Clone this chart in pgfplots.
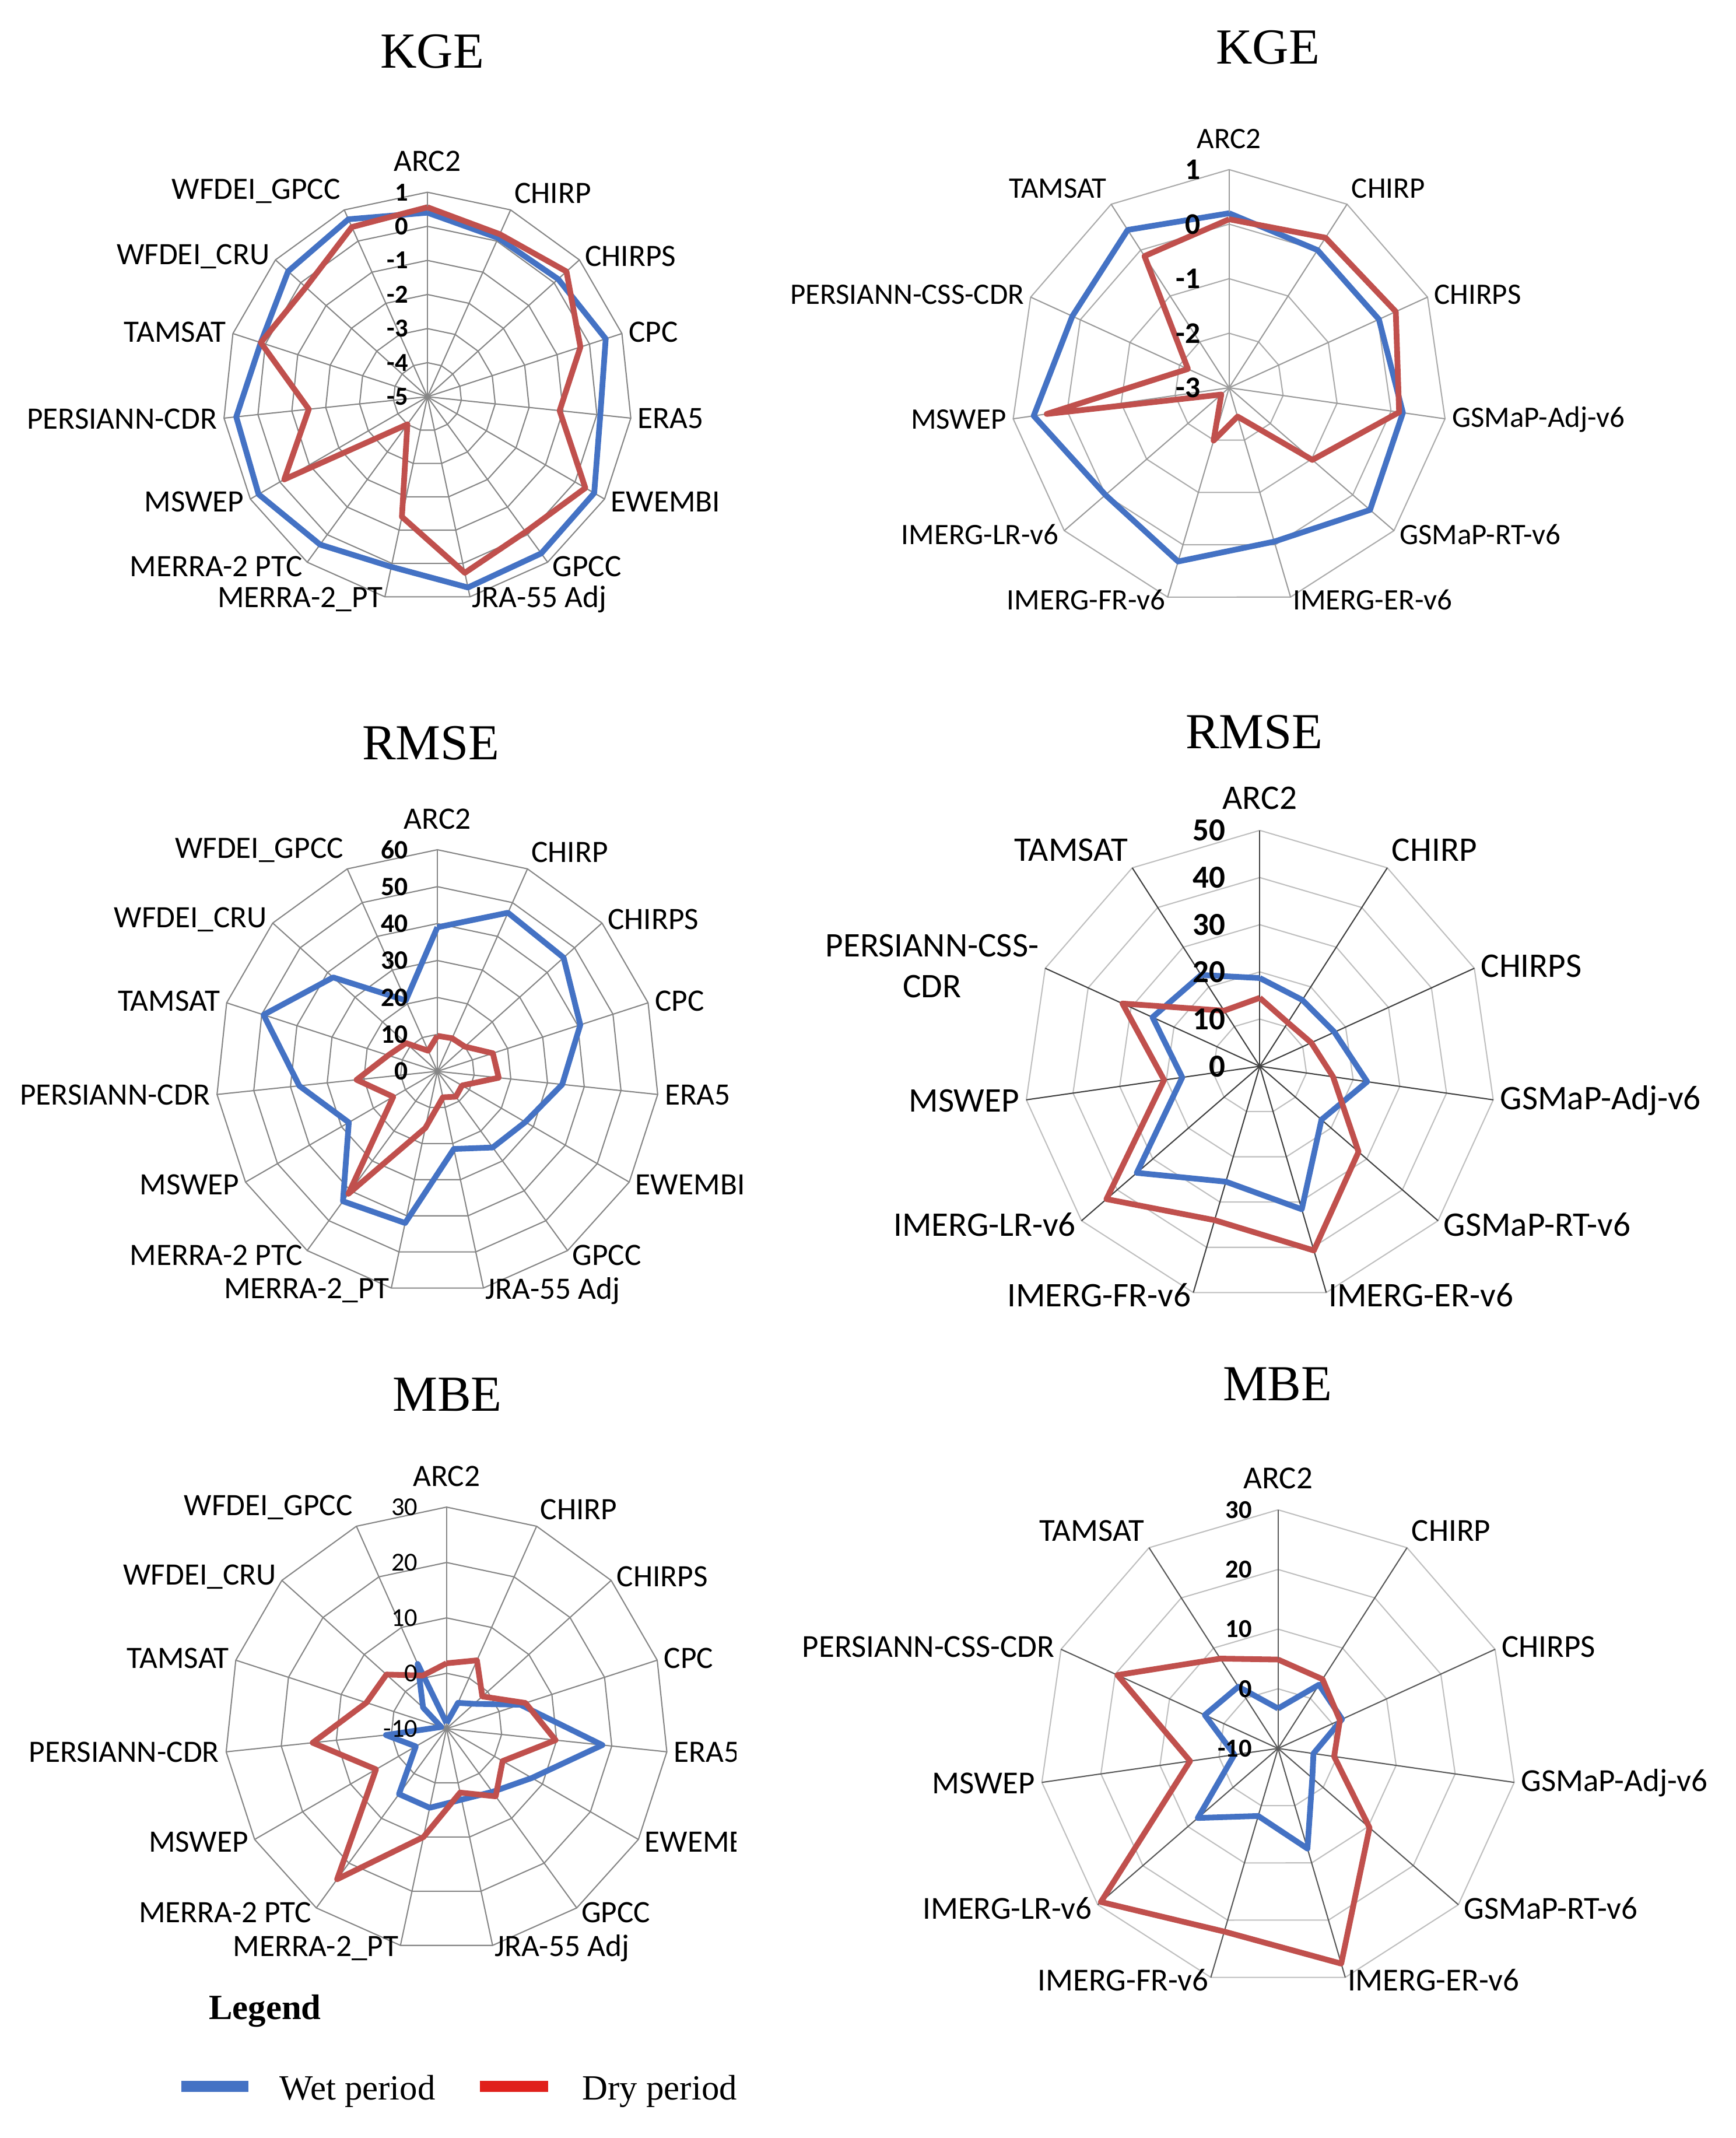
\documentclass[border=0pt]{standalone}
\usepackage{fontspec}
\setmainfont{Liberation Serif}
\newfontfamily\calib{Carlito}
\usepackage{pgfplots}
\usepackage{pgfplotstable}
\pgfplotsset{compat=1.18}
\definecolor{wetc}{HTML}{4472C4}
\definecolor{dryc}{HTML}{C0504D}
\definecolor{legblue}{HTML}{4472C4}
\definecolor{legred}{HTML}{E0201B}
\definecolor{gridL}{HTML}{868686}
\definecolor{ringB}{HTML}{ABABAB}
\definecolor{spokeB}{HTML}{9A9A9A}
\definecolor{ringR}{HTML}{BFBFBF}
\definecolor{spokeD}{HTML}{404040}
\definecolor{spokeF}{HTML}{595959}

% ---------------- data ----------------
\pgfplotstableread{
k wet dry
0 0.40 0.56
1 0.10 0.22
2 0.16 0.49
3 0.50 -0.28
4 0.10 -1.10
5 0.65 0.35
6 0.68 -0.10
7 0.72 0.28
8 0.10 -1.40
9 0.36 -4.00
10 0.72 -0.15
11 0.64 -1.50
12 0.14 0.14
13 0.50 -0.20
14 0.70 0.45
15 0.40 0.56
}\kgeL

\pgfplotstableread{
k wet dry
0 0.20 0.09
1 0.00 0.27
2 0.02 0.36
3 0.22 0.15
4 0.42 -0.98
5 -0.06 -2.45
6 0.32 -1.99
7 0.00 -2.81
8 0.62 0.38
9 0.16 -2.17
10 0.44 -0.13
11 0.20 0.09
}\kgeR

\pgfplotstableread{
k wet dry
0 39.0 9.6
1 47.0 9.8
2 46.0 10.0
3 40.7 15.8
4 34.0 16.7
5 27.5 7.7
6 25.5 8.5
7 21.5 7.2
8 42.0 15.7
9 43.5 41.0
10 27.7 13.8
11 37.6 22.0
12 49.5 14.0
13 38.0 11.4
14 21.0 6.1
15 39.0 9.6
}\rmseL

\pgfplotstableread{
k wet dry
0 18.7 14.5
1 16.7 11.0
2 17.4 12.0
3 23.0 15.7
4 17.3 27.7
5 31.6 40.7
6 25.5 34.0
7 34.5 43.0
8 16.6 20.5
9 25.0 32.0
10 23.0 14.0
11 18.7 14.5
}\rmseR

\pgfplotstableread{
k wet dry
0 -9.0 1.8
1 -4.9 3.5
2 -3.3 -1.3
3 4.0 5.0
4 18.3 9.8
5 7.8 1.7
6 4.1 5.1
7 3.1 1.8
8 4.6 10.0
9 4.6 23.6
10 -3.6 4.7
11 1.0 14.3
12 -9.0 5.2
13 -4.3 4.6
14 2.8 0.5
15 -9.0 1.8
}\mbeL

\pgfplotstableread{
k wet dry
0 -3.3 4.9
1 2.7 3.8
2 1.8 1.4
3 -4.0 -0.5
4 -2.4 10.3
5 7.5 27.6
6 1.8 22.0
7 7.8 29.3
8 -2.6 4.9
9 3.5 19.6
10 2.3 7.9
11 -3.3 4.9
}\mbeR

\pgfplotstableread{
t u
0 0
1 1
}\spk

% ---------------- helpers ----------------
\pgfplotsset{radar/.style={scale only axis, axis lines=none, ticks=none,
  xmin=-1, xmax=1, ymin=-1, ymax=1, enlargelimits=false, clip=false, anchor=center}}

% #1 table, #2 N, #3 rings, #4 ring colour, #5 spoke colour, #6 N-1
\newcommand\radargrid[6]{%
  \pgfplotsinvokeforeach{1,...,#3}{%
    \addplot[draw=#4, line width=0.9pt, mark=none, forget plot]
      table[x expr={##1/#3*sin(\thisrow{k}*360/#2)}, y expr={##1/#3*cos(\thisrow{k}*360/#2)}]{#1};
  }%
  \pgfplotsinvokeforeach{0,...,#6}{%
    \addplot[draw=#5, line width=0.9pt, mark=none, forget plot]
      table[x expr={\thisrow{t}*sin(##1*360/#2)}, y expr={\thisrow{u}*cos(##1*360/#2)}]{\spk};
  }%
}
% #1 table, #2 vmin, #3 range, #4 N
\newcommand\radarplot[4]{%
  \addplot[draw=wetc, line width=4.2pt, line join=round, mark=none]
    table[x expr={(\thisrow{wet}-(#2))/#3*sin(\thisrow{k}*360/#4)},
          y expr={(\thisrow{wet}-(#2))/#3*cos(\thisrow{k}*360/#4)}]{#1};
  \addplot[draw=dryc, line width=4.2pt, line join=round, mark=none]
    table[x expr={(\thisrow{dry}-(#2))/#3*sin(\thisrow{k}*360/#4)},
          y expr={(\thisrow{dry}-(#2))/#3*cos(\thisrow{k}*360/#4)}]{#1};
}
% #1 cx, #2 cy, #3 R, #4 N, #5 font, #6 list anchor/gap/text
\newcommand\catlabels[6]{%
  \foreach \a/\g/\t [count=\i from 0] in {#6}{%
    \node[anchor=\a, inner sep=1pt, align=center, font=#5]
      at ({#1+(#3+\g)*sin(\i*360/#4)},{#2+(#3+\g)*cos(\i*360/#4)}) {\t};}%
}
% #1 cx, #2 cy, #3 step, #4 xoff, #5 font, #6 list
\newcommand\ticklabels[6]{%
  \foreach \v [count=\j from 0] in {#6}{%
    \node[anchor=east, inner sep=0pt, font=#5] at ({#1-#4},{#2+\j*#3}) {\v};}%
}

\begin{document}
\begin{tikzpicture}[x=1pt,y=1pt]
\useasboundingbox (0,0) rectangle (1273,1568);

% ---------- titles ----------
\begin{scope}[every node/.style={anchor=base, inner sep=0pt, font=\fontsize{37}{44}\selectfont}]
\node at (317,1518) {KGE};
\node at (930,1521) {KGE};
\node at (316,1011) {RMSE};
\node at (920,1019) {RMSE};
\node at (328,533) {MBE};
\node at (937,541) {MBE};
\end{scope}

% ---------- A: left KGE ----------
\begin{axis}[radar, at={(313.5pt,1277pt)}, width=300pt, height=300pt]
\radargrid{\kgeL}{15}{6}{gridL}{gridL}{14}
\radarplot{\kgeL}{-5}{6}{15}
\end{axis}
\catlabels{313.5}{1277}{150}{15}{\fontsize{22.8}{27}\selectfont\calib}{south/14/ARC2, south west/4/CHIRP, west/4/CHIRPS, west/4/CPC, west/4/ERA5, west/4/EWEMBI, west/4/GPCC, west/2/JRA-55 Adj, east/2/MERRA-2\_PT, east/4/MERRA-2 PTC, east/4/MSWEP, east/4/PERSIANN-CDR, east/4/TAMSAT, east/4/WFDEI\_CRU, south east/4/WFDEI\_GPCC}
\ticklabels{313.5}{1277}{25}{14}{\fontsize{19}{22}\selectfont\calib\bfseries}{-5,-4,-3,-2,-1,0,1}

% ---------- B: right KGE ----------
\begin{axis}[radar, at={(901.5pt,1283.6pt)}, width=320pt, height=320pt]
\radargrid{\kgeR}{11}{4}{ringB}{spokeB}{10}
\radarplot{\kgeR}{-3}{4}{11}
\end{axis}
\catlabels{901.5}{1283.6}{160}{11}{\fontsize{21.8}{26}\selectfont\calib}{south/14/ARC2, south west/4/CHIRP, west/4/CHIRPS, west/4/GSMaP-Adj-v6, west/4/GSMaP-RT-v6, west/2/IMERG-ER-v6, east/2/IMERG-FR-v6, east/4/IMERG-LR-v6, east/4/MSWEP, east/4/PERSIANN-CSS-CDR, south east/4/TAMSAT}
\ticklabels{901.5}{1283.6}{40}{21}{\fontsize{22}{26}\selectfont\calib\bfseries}{-3,-2,-1,0,1}

% ---------- C: left RMSE ----------
\begin{axis}[radar, at={(320.8pt,782.3pt)}, width=325pt, height=325pt]
\radargrid{\rmseL}{15}{6}{gridL}{gridL}{14}
\radarplot{\rmseL}{0}{60}{15}
\end{axis}
\catlabels{320.8}{782.3}{162.5}{15}{\fontsize{22.8}{27}\selectfont\calib}{south/14/ARC2, south west/4/CHIRP, west/4/CHIRPS, west/4/CPC, west/4/ERA5, west/4/EWEMBI, west/4/GPCC, west/2/JRA-55 Adj, east/2/MERRA-2\_PT, east/4/MERRA-2 PTC, east/4/MSWEP, east/4/PERSIANN-CDR, east/4/TAMSAT, east/4/WFDEI\_CRU, south east/4/WFDEI\_GPCC}
\ticklabels{320.8}{782.3}{27.083}{21.5}{\fontsize{19.5}{23}\selectfont\calib\bfseries}{0,10,20,30,40,50,60}

% ---------- D: right RMSE ----------
\begin{axis}[radar, at={(924pt,786pt)}, width=346pt, height=346pt]
\radargrid{\rmseR}{11}{5}{ringR}{spokeD}{10}
\radarplot{\rmseR}{0}{50}{11}
\end{axis}
\catlabels{924}{786}{173}{11}{\fontsize{25.3}{30}\selectfont\calib}{south/14/ARC2, south west/4/CHIRP, west/4/CHIRPS, west/4/GSMaP-Adj-v6, west/4/GSMaP-RT-v6, west/2/IMERG-ER-v6, east/2/IMERG-FR-v6, east/4/IMERG-LR-v6, east/4/MSWEP, east/4/PERSIANN-CSS-\\CDR, south east/4/TAMSAT}
\ticklabels{924}{786}{34.6}{25}{\fontsize{23.5}{28}\selectfont\calib\bfseries}{0,10,20,30,40,50}

% ---------- E: left MBE ----------
\begin{axis}[radar, at={(327.5pt,300.2pt)}, width=325pt, height=325pt]
\radargrid{\mbeL}{15}{4}{gridL}{gridL}{14}
\radarplot{\mbeL}{-10}{40}{15}
\end{axis}
\begin{scope}
\clip (0,0) rectangle (540,1568);
\catlabels{327.5}{300.2}{162.5}{15}{\fontsize{22.8}{27}\selectfont\calib}{south/14/ARC2, south west/4/CHIRP, west/4/CHIRPS, west/4/CPC, west/4/ERA5, west/4/EWEMBI, west/4/GPCC, west/2/JRA-55 Adj, east/2/MERRA-2\_PT, east/4/MERRA-2 PTC, east/4/MSWEP, east/4/PERSIANN-CDR, east/4/TAMSAT, east/4/WFDEI\_CRU, south east/4/WFDEI\_GPCC}
\end{scope}
\ticklabels{327.5}{300.2}{40.625}{21}{\fontsize{19}{23}\selectfont\calib}{-10,0,10,20,30}

% ---------- F: right MBE ----------
\begin{axis}[radar, at={(937.4pt,285.7pt)}, width=350pt, height=350pt]
\radargrid{\mbeR}{11}{4}{ringR}{spokeF}{10}
\radarplot{\mbeR}{-10}{40}{11}
\end{axis}
\catlabels{937.4}{285.7}{175}{11}{\fontsize{23.5}{28}\selectfont\calib}{south/14/ARC2, south west/4/CHIRP, west/4/CHIRPS, west/4/GSMaP-Adj-v6, west/4/GSMaP-RT-v6, west/2/IMERG-ER-v6, east/2/IMERG-FR-v6, east/4/IMERG-LR-v6, east/4/MSWEP, east/4/PERSIANN-CSS-CDR, south east/4/TAMSAT}
\ticklabels{937.4}{285.7}{43.75}{19}{\fontsize{19}{23}\selectfont\calib\bfseries}{-10,0,10,20,30}

% ---------- legend ----------
\node[anchor=base west, inner sep=0pt, font=\bfseries\fontsize{26}{30}\selectfont] at (153,87) {Legend};
\draw[legblue, line width=8pt] (133,38) -- (182,38);
\node[anchor=base west, inner sep=0pt, font=\fontsize{26}{30}\selectfont] at (205,28) {Wet period};
\draw[legred, line width=8pt] (352,38) -- (402,38);
\node[anchor=base west, inner sep=0pt, font=\fontsize{26}{30}\selectfont] at (427,28) {Dry period};
\end{tikzpicture}
\end{document}
